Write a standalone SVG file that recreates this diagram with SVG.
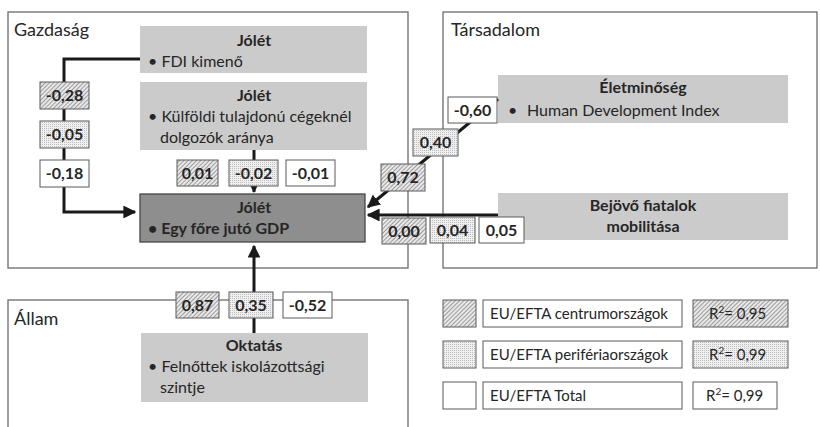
<svg xmlns="http://www.w3.org/2000/svg" width="820" height="427" viewBox="0 0 820 427">
<style>
text{font-family:Lato,"Open Sans","Liberation Sans",sans-serif;fill:#262626;font-size:16px}
.panel{fill:#fff;stroke:#6b6b6b;stroke-width:1.3}
.grey{fill:#cbcbcb}
.b{font-weight:bold}
.m{text-anchor:middle}
.val{stroke:#5a5a5a;stroke-width:1}
.vt{font-weight:bold;text-anchor:middle;font-size:16px}
.conn{fill:none;stroke:#1a1a1a;stroke-width:3}
.ptitle{font-size:18px}
.lg{font-size:15px}
</style>
<defs>
<pattern id="hatch" width="3" height="3" patternUnits="userSpaceOnUse" patternTransform="rotate(45)">
<rect width="3" height="3" fill="#e8e8e8"/>
<line x1="0.5" y1="0" x2="0.5" y2="3" stroke="#9c9c9c" stroke-width="1"/>
</pattern>
<pattern id="dots" width="2" height="2" patternUnits="userSpaceOnUse">
<rect width="2" height="2" fill="#f0f0f0"/>
<rect width="1" height="1" fill="#bcbcbc"/>
</pattern>
<marker id="ah" viewBox="0 0 10 10" refX="9" refY="5" markerWidth="4.3" markerHeight="4.3" orient="auto" markerUnits="strokeWidth">
<path d="M0,0 L10,5 L0,10 z" fill="#1a1a1a"/>
</marker>
<marker id="ahs" viewBox="0 0 10 10" refX="9" refY="5" markerWidth="3" markerHeight="3" orient="auto" markerUnits="strokeWidth">
<path d="M0,0 L10,5 L0,10 z" fill="#1a1a1a"/>
</marker>
</defs>

<g id="panel-gazdasag">
<rect class="panel" x="8" y="12" width="400" height="256"/>
<text class="ptitle" x="14" y="36">Gazdaság</text>
</g>
<g id="panel-tarsadalom">
<rect class="panel" x="443" y="12" width="374" height="256"/>
<text class="ptitle" x="451" y="36">Társadalom</text>
</g>
<g id="panel-allam">
<rect class="panel" x="8" y="300" width="400" height="140"/>
<text class="ptitle" x="14" y="325">Állam</text>
</g>

<g id="node-fdi">
<rect class="grey" x="140" y="26" width="227" height="47"/>
<text class="b m" x="254" y="46">Jólét</text>
<text x="148" y="67">•  FDI kimenő</text>
</g>
<g id="node-kulfoldi">
<rect class="grey" x="140" y="82" width="227" height="68"/>
<text class="b m" x="254" y="101">Jólét</text>
<text x="148" y="122">•  Külföldi tulajdonú cégeknél</text>
<text x="160" y="143">dolgozók aránya</text>
</g>
<g id="node-gdp">
<rect x="140" y="194" width="225" height="48" fill="#8e8e8e" stroke="#474747" stroke-width="1.3"/>
<text class="b m" x="254" y="213">Jólét</text>
<text class="b" x="148" y="234">•  Egy főre jutó GDP</text>
</g>
<g id="node-eletminoseg">
<rect class="grey" x="498" y="75" width="290" height="48"/>
<text class="b m" x="643" y="93">Életminőség</text>
<text x="508" y="116">•</text>
<text x="527" y="116">Human Development Index</text>
</g>
<g id="node-bejovo">
<rect class="grey" x="498" y="193" width="290" height="47"/>
<text class="b m" x="643" y="211">Bejövő fiatalok</text>
<text class="b m" x="643" y="232">mobilitása</text>
</g>
<g id="node-oktatas">
<rect class="grey" x="141" y="333" width="227" height="69"/>
<text class="b m" x="254" y="351">Oktatás</text>
<text x="148" y="372">•  Felnőttek iskolázottsági</text>
<text x="160" y="393">szintje</text>
</g>

<g id="connectors">
<polyline class="conn" points="140,59 64,59 64,212 135,212" marker-end="url(#ah)"/>
<line class="conn" x1="254" y1="150" x2="254" y2="192" marker-end="url(#ahs)"/>
<line class="conn" x1="498" y1="99" x2="368" y2="207" marker-end="url(#ah)"/>
<line class="conn" x1="498" y1="215" x2="368" y2="215" marker-end="url(#ah)"/>
<line class="conn" x1="254" y1="333" x2="254" y2="246" marker-end="url(#ah)"/>
</g>

<g id="values-left">
<rect class="val" x="40" y="82" width="49" height="27" fill="url(#hatch)"/>
<text class="vt" x="64.5" y="101">-0,28</text>
<rect class="val" x="40" y="121" width="49" height="27" fill="url(#dots)"/>
<text class="vt" x="64.5" y="140">-0,05</text>
<rect class="val" x="40" y="160" width="49" height="27" fill="#fff"/>
<text class="vt" x="64.5" y="179">-0,18</text>
</g>
<g id="values-kulfoldi">
<rect class="val" x="177" y="160" width="41" height="26" fill="url(#hatch)"/>
<text class="vt" x="197.5" y="179">0,01</text>
<rect class="val" x="229" y="160" width="49" height="26" fill="url(#dots)"/>
<text class="vt" x="253.5" y="179">-0,02</text>
<rect class="val" x="286" y="160" width="49" height="26" fill="#fff"/>
<text class="vt" x="310.5" y="179">-0,01</text>
</g>
<g id="values-eletminoseg">
<rect class="val" x="448" y="97" width="49" height="26" fill="#fff"/>
<text class="vt" x="472.5" y="116">-0,60</text>
<rect class="val" x="413" y="129" width="45" height="27" fill="url(#dots)"/>
<text class="vt" x="435.5" y="148">0,40</text>
<rect class="val" x="381" y="164" width="44" height="27" fill="url(#hatch)"/>
<text class="vt" x="403" y="183">0,72</text>
</g>
<g id="values-bejovo">
<rect class="val" x="382" y="218" width="44" height="26" fill="url(#hatch)"/>
<text class="vt" x="404" y="237">0,00</text>
<rect class="val" x="430" y="217" width="45" height="26" fill="url(#dots)"/>
<text class="vt" x="452.5" y="236">0,04</text>
<rect class="val" x="479" y="217" width="45" height="26" fill="#fff"/>
<text class="vt" x="501.5" y="236">0,05</text>
</g>
<g id="values-oktatas">
<rect class="val" x="176" y="292" width="43" height="26" fill="url(#hatch)"/>
<text class="vt" x="197.5" y="311">0,87</text>
<rect class="val" x="229" y="292" width="44" height="26" fill="url(#dots)"/>
<text class="vt" x="251" y="311">0,35</text>
<rect class="val" x="283" y="292" width="49" height="26" fill="#fff"/>
<text class="vt" x="307.5" y="311">-0,52</text>
</g>

<g id="legend">
<rect class="val" x="443" y="300" width="33" height="27" fill="url(#hatch)"/>
<rect class="val" x="483" y="300" width="199" height="27" fill="#fff"/>
<text class="lg" x="490" y="319">EU/EFTA centrumországok</text>
<rect class="val" x="693" y="300" width="95" height="27" fill="url(#hatch)"/>
<text class="lg" x="709" y="319">R<tspan font-size="10" dy="-6">2</tspan><tspan dy="6">= 0,95</tspan></text>

<rect class="val" x="443" y="341" width="33" height="27" fill="url(#dots)"/>
<rect class="val" x="483" y="341" width="199" height="27" fill="#fff"/>
<text class="lg" x="490" y="360">EU/EFTA perifériaországok</text>
<rect class="val" x="693" y="341" width="95" height="27" fill="url(#dots)"/>
<text class="lg" x="709" y="360">R<tspan font-size="10" dy="-6">2</tspan><tspan dy="6">= 0,99</tspan></text>

<rect class="val" x="443" y="382" width="33" height="27" fill="#fff"/>
<rect class="val" x="483" y="382" width="199" height="27" fill="#fff"/>
<text class="lg" x="490" y="401">EU/EFTA Total</text>
<rect class="val" x="693" y="382" width="84" height="27" fill="#fff"/>
<text class="lg" x="706" y="401">R<tspan font-size="10" dy="-6">2</tspan><tspan dy="6">= 0,99</tspan></text>
</g>
</svg>
